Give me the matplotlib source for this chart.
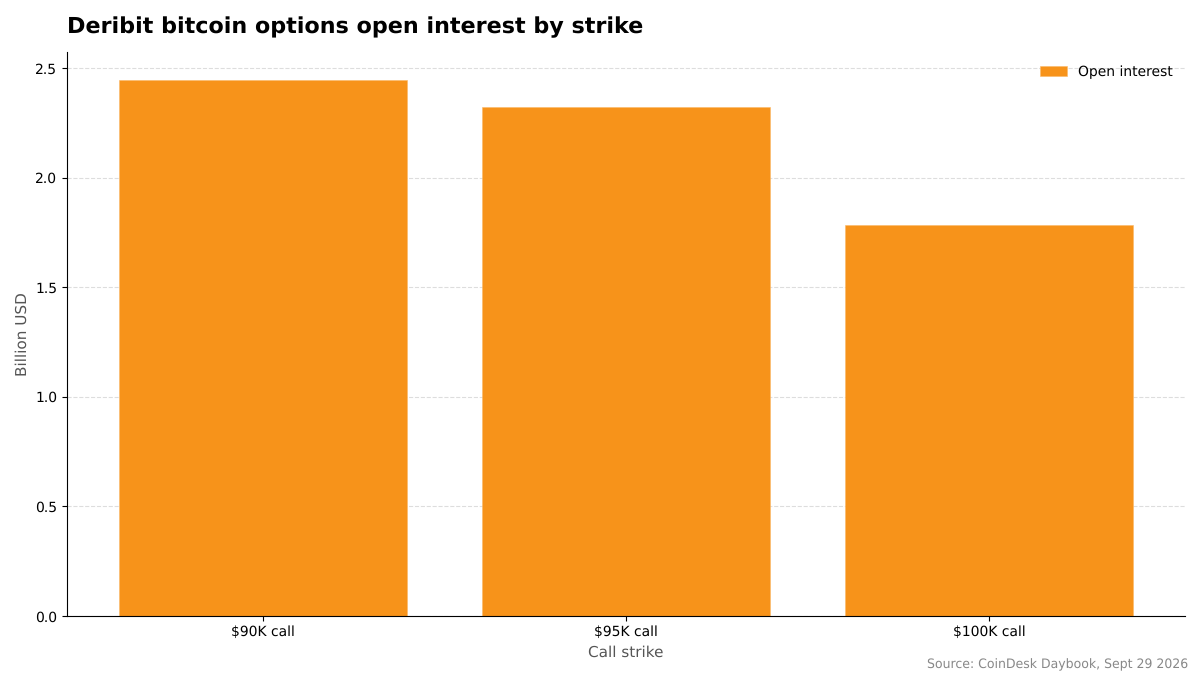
import matplotlib
matplotlib.use("Agg")
import matplotlib.pyplot as plt

plt.rcParams["text.hinting"] = "no_hinting"

strikes = ["$90K call", "$95K call", "$100K call"]
open_interest = [2.447, 2.324, 1.785]

fig = plt.figure(figsize=(12, 6.75), dpi=100)
ax = fig.add_axes([67/1200, 1-616/675, (1185-67)/1200, (616-52)/675])
ax.bar(strikes, open_interest, width=0.795, color="#F7931A",
       edgecolor="#FBB867", linewidth=0.4, label="Open interest", zorder=2)
ax.set_xlim(-0.54, 2.54)
ax.set_ylim(0, 2.575)
ax.yaxis.grid(True, linestyle="--", color="#dddddd", linewidth=0.8, zorder=1)
ax.set_axisbelow(True)
for s in ("top", "right"):
    ax.spines[s].set_visible(False)
ax.tick_params(labelsize=10)
ax.tick_params(axis="x", pad=3)
ax.set_ylabel("Billion USD", fontsize=11, color="#555555", labelpad=4)
ax.set_xlabel("Call strike", fontsize=11, color="#555555", labelpad=5)
ax.legend(loc="upper right", frameon=False, fontsize=10, bbox_to_anchor=(1, 0.9985),
          handlelength=1.95)
fig.text(67/1200, 1-27/675, "Deribit bitcoin options open interest by strike",
         fontsize=16, fontweight="bold", ha="left", va="center")
fig.text(1188/1200, 1-664.5/675, "Source: CoinDesk Daybook, Sept 29 2026",
         fontsize=9, color="#888888", ha="right", va="center")
fig.savefig("out.png", dpi=100)
